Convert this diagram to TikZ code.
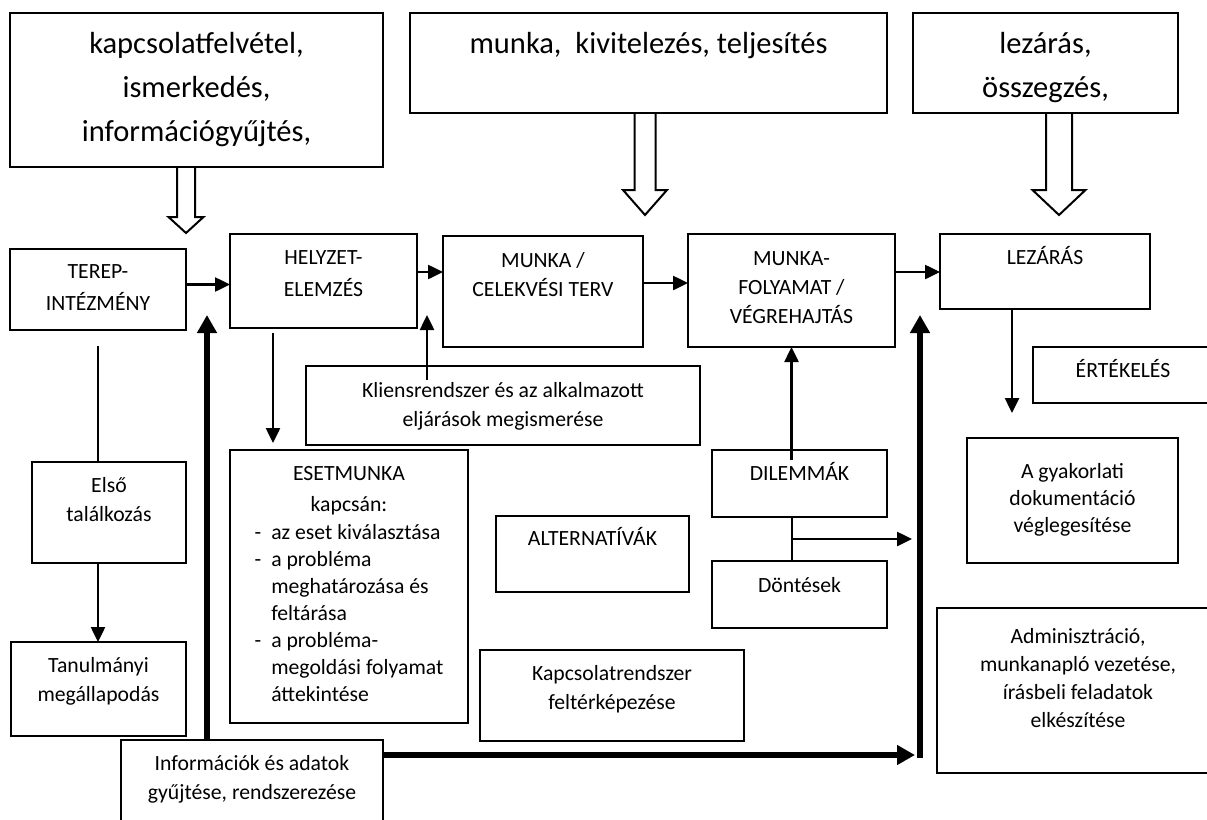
\documentclass[tikz,border=0pt]{standalone}
\usepackage{fontspec}
\setmainfont{Carlito}
\usetikzlibrary{arrows.meta,positioning,calc}

\begin{document}
\begin{tikzpicture}[x=1pt,y=-1pt,
  font=\fontsize{21.7}{29}\selectfont,
  bx/.style={draw,line width=2.5pt,inner sep=0pt,outer sep=0pt,
             anchor=north west,align=flush center,text height=30pt},
  big/.style={bx,font=\fontsize{30.5}{44}\selectfont,text height=40pt},
  ar/.style={-{Triangle[length=15pt,width=14pt]},line width=2.5pt},
  ln/.style={line width=2pt},
  thk/.style={-{Triangle[length=18pt,width=19pt]},line width=6pt},
  hollow/.style={line width=2pt,line join=miter},
]
\path[use as bounding box,fill=white] (0,0) rectangle (1207,819);

% phases on top
\node[big,text width=373pt,text depth=114pt] (kap) at (10,13)
  {kapcsolatfelvétel,\\ ismerkedés,\\ információgyűjtés,};
\node[big,text width=477pt,text depth=60pt] (munka) at (410,13)
  {munka,\ \ kivitelezés, teljesítés};
\node[big,text width=265pt,text depth=60pt] (lezar) at (913,13)
  {lezárás,\\ összegzés,};

% main row
\node[bx,text width=176pt,text height=29pt,text depth=52pt] (terep) at (10,249)
  {TEREP-\\[3pt] INTÉZMÉNY};
\node[bx,text width=187pt,text depth=64pt] (helyzet) at (230,234)
  {HELYZET-\\[3pt] ELEMZÉS};
\node[bx,text width=200pt,text height=31pt,text depth=80pt] (terv) at (443,236)
  {MUNKA /\\ CELEKVÉSI TERV};
\node[bx,text width=207pt,text height=31pt,text depth=82pt] (folyamat) at (688,234)
  {MUNKA-\\ FOLYAMAT /\\ VÉGREHAJTÁS};
\node[bx,text width=210pt,text depth=45pt] (lezaras) at (940,234) {LEZÁRÁS};
\node[bx,text width=180pt,text depth=26pt] (ertekeles) at (1033,347) {ÉRTÉKELÉS};

% lower boxes
\node[bx,text width=394pt,text height=31pt,text depth=48pt] (klien) at (306,366)
  {Kliensrendszer és az alkalmazott\\ eljárások megismerése};
\node[bx,text width=154pt,text depth=71pt] (elso) at (32,462)
  {Első\\ találkozás};
\node[bx,text width=175pt,text depth=64pt] (tanul) at (11,642)
  {Tanulmányi\\ megállapodás};
\node[bx,text width=238pt,text depth=243pt,font=\fontsize{21.7}{27}\selectfont] (eset) at (230,450)
  {ESETMUNKA\\[4pt] kapcsán:\\[5pt]
   \begin{tabular}{@{}l@{\hspace{10pt}}l@{}}
   - & az eset kiválasztása\\
   - & a probléma\\
     & meghatározása és\\
     & feltárása\\
   - & a probléma-\\
     & megoldási folyamat\\
     & áttekintése
   \end{tabular}};
\node[bx,text width=262pt,text depth=60pt] (info) at (121,740)
  {Információk és adatok\\ gyűjtése, rendszerezése};
\node[bx,text width=193pt,text height=29pt,text depth=47pt] (alter) at (496,516) {ALTERNATÍVÁK};
\node[bx,text width=175pt,text depth=37pt] (dilem) at (712,450) {DILEMMÁK};
\node[bx,text width=175pt,text height=31pt,text depth=36pt] (dont) at (712,561) {Döntések};
\node[bx,text width=264pt,text depth=61pt] (kapcs) at (480,650)
  {Kapcsolatrendszer\\ feltérképezése};
\node[bx,text width=211pt,text height=40pt,text depth=85pt,font=\fontsize{21.7}{27}\selectfont] (gyak) at (967,438)
  {A gyakorlati\\ dokumentáció\\ véglegesítése};
\node[bx,text width=282pt,text height=35pt,text depth=130pt,font=\fontsize{21.7}{28}\selectfont] (admin) at (937,608)
  {Adminisztráció,\\ munkanapló vezetése,\\ írásbeli feladatok\\ elkészítése};

% hollow arrows
\draw[hollow] ($(kap.south)+(-19.5,0)$) -- ++(0,50) -- ++(-8.5,0) -- ++(17.5,16)
  -- ++(17.5,-16) -- ++(-8.5,0) -- ++(0,-50);
\draw[hollow] ($(munka.south)+(-14,0)$) -- ++(0,77) -- ++(-11.5,0) -- ++(22,25)
  -- ++(22,-25) -- ++(-11.5,0) -- ++(0,-77);
\draw[hollow] ($(lezar.south)+(0.5,0)$) -- ++(0,77) -- ++(-13.5,0) -- ++(26.5,25)
  -- ++(26.5,-25) -- ++(-13.5,0) -- ++(0,-77);

% connectors
\coordinate (kliTip) at (427,315);
\coordinate (lbusTip) at (207,315);
\coordinate (rbus) at (920,755);
\coordinate (rbusTip) at (920,315);
\coordinate (lezTip) at (1012,413);

\draw[ar] ([yshift=5pt]terep.east) -- ([yshift=5pt]terep.east -| helyzet.west);
\draw[ar] ([yshift=9pt]helyzet.east) -- ([yshift=9pt]helyzet.east -| terv.west);
\draw[ar] ([yshift=8.5pt]terv.east) -- ([yshift=8.5pt]terv.east -| folyamat.west);
\draw[ar] ([yshift=18.5pt]folyamat.east) -- ([yshift=18.5pt]folyamat.east -| lezaras.west);

\draw[ar] ($(kliTip |- klien.north)+(0,14)$) -- (kliTip);
\draw[ar] ($(helyzet.south west)+(43,5)$) -- ($(helyzet.south west |- eset.north)+(43,-7)$);
\draw[ln] ($(terep.south)+(0,16)$) -- (terep.south |- elso.north);
\draw[ar] (terep.south |- elso.south) -- (terep.south |- tanul.north);
\draw[ar] (lezTip |- lezaras.south) -- (lezTip);

\draw[ar] ($(folyamat.south |- dilem.north)+(0,10)$) -- (folyamat.south);
\draw[ln] (folyamat.south |- dilem.south) -- (folyamat.south |- dont.north);
\path ($(folyamat.south |- dilem.south)!.5!(folyamat.south |- dont.north)$) coordinate (fork);
\draw[ar] (fork) -- ([xshift=-8pt]fork -| rbus);

% information flow
\draw[thk] (lbusTip |- info.north) -- (lbusTip);
\draw[thk] (rbus -| info.east) -- ([xshift=-5pt]rbus);
\draw[thk] ([yshift=-3pt]rbus) -- (rbusTip);
\end{tikzpicture}
\end{document}
